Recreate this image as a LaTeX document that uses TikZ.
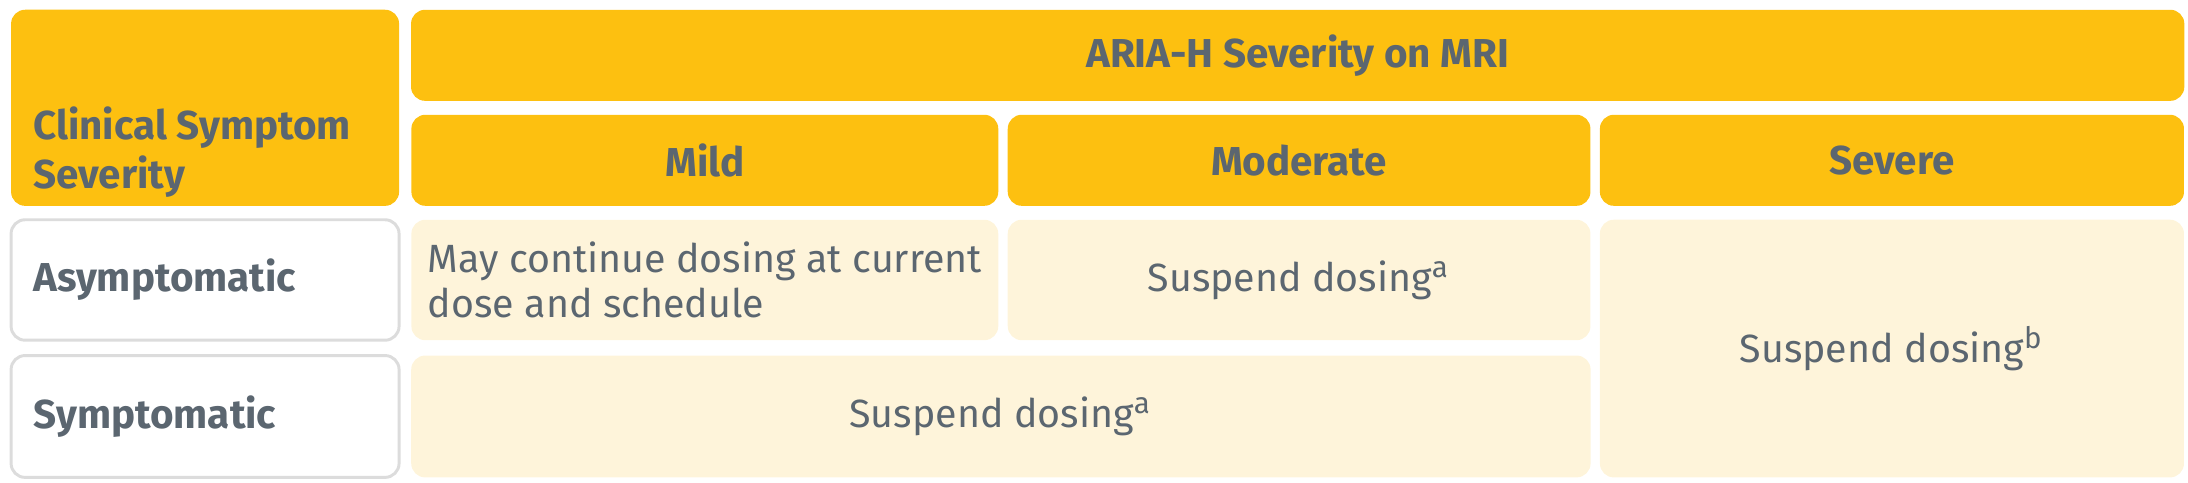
\documentclass[tikz,border=0pt]{standalone}
\usepackage{fontspec}
\setmainfont{Fira Sans}
\definecolor{ariaorange}{HTML}{FDC010}
\definecolor{ariacream}{HTML}{FEF4DA}
\definecolor{ariatext}{HTML}{5B6670}
\definecolor{ariaborder}{HTML}{DCDCDC}
\tikzset{
  box/.style={rounded corners=0.1cm, inner sep=0pt, text=ariatext},
  head/.style={box, fill=ariaorange, font=\fontsize{8.2}{10}\selectfont\bfseries},
  rowhead/.style={box, fill=white, draw=ariaborder, line width=0.6pt, font=\fontsize{8.2}{10}\selectfont\bfseries},
  cell/.style={box, fill=ariacream, font=\fontsize{8}{9.2}\selectfont},
}
\begin{document}
\begin{tikzpicture}[x=0.01cm,y=-0.01cm]
\useasboundingbox (0,0) rectangle (1563,345);

% column heads
\node[head, minimum width=2.77cm, minimum height=1.40cm] (clin) at (146.5,77)
  {\parbox[b][1.22cm][b]{2.45cm}{\raggedright Clinical Symptom\\Severity}};
\node[head, minimum width=12.66cm, minimum height=0.65cm] (aria) at (927,39.5) {ARIA-H Severity on MRI};
\node[head, minimum width=4.19cm, minimum height=0.65cm] (mild) at (503.5,114.5) {Mild};
\node[head, minimum width=4.16cm, minimum height=0.65cm] (moderate) at (928,114.5) {Moderate};
\node[head, minimum width=4.17cm, minimum height=0.65cm] (severe) at (1351.5,114.5) {Severe};

% row heads
\node[rowhead, minimum width=2.77cm, minimum height=0.86cm] (asym) at (146.5,200)
  {\parbox{2.45cm}{Asymptomatic}};
\node[rowhead, minimum width=2.77cm, minimum height=0.87cm] (sym) at (146.5,297.5)
  {\parbox{2.45cm}{Symptomatic}};

% actions
\node[cell, align=left, minimum width=4.19cm, minimum height=0.86cm] (asymmild) at (503.5,200)
  {May continue dosing at current\\dose and schedule\hspace*{1.25cm}};
\node[cell, minimum width=4.16cm, minimum height=0.86cm] (asymmod) at (928,200)
  {Suspend dosing\textsuperscript{a}};
\node[cell, minimum width=8.42cm, minimum height=0.87cm] (symmildmod) at (715,297.5)
  {Suspend dosing\textsuperscript{a}};
\node[cell, minimum width=4.17cm, minimum height=1.84cm] (allsevere) at (1351.5,249)
  {Suspend dosing\textsuperscript{b}};
\end{tikzpicture}
\end{document}
